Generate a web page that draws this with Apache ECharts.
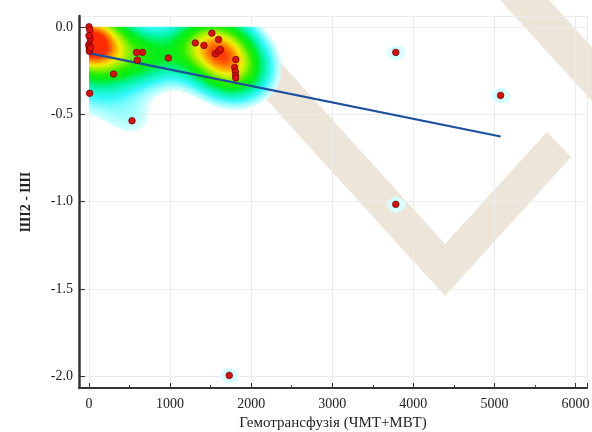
<!DOCTYPE html>
<html><head><meta charset="utf-8">
<script src="https://cdn.jsdelivr.net/npm/echarts@6/dist/echarts.min.js"></script>
<style>html,body{margin:0;padding:0;background:#fff}#c{width:592px;height:432px}</style>
</head><body><div id="c"></div>
<script>
// ---- data (several points at x=0 overlap) ----
const pointsX = [0, 10, 15, 0, 10, 5, 0, 5, 0, 20,
  585, 660, 597, 978, 303, 8, 531,
  1311, 1417, 1515, 1597, 1558, 1599, 1620, 1810, 1796, 1805, 1808, 1810,
  3783, 3783, 5076, 1730];
const pointsY = [0.0, -0.018, -0.068, -0.10, -0.123, -0.14, -0.11, -0.13, -0.05, -0.12,
  -0.146, -0.146, -0.19, -0.178, -0.27, -0.38, -0.537,
  -0.092, -0.106, -0.036, -0.072, -0.154, -0.14, -0.13, -0.187, -0.233, -0.256, -0.278, -0.292,
  -0.146, -1.015, -0.392, -1.993];
const fitX = [0, 5076];
const fitY = [-0.15, -0.627];
const xName = 'Гемотрансфузія (ЧМТ+МВТ)';
const yName = 'ШІ2 - ШІ';

// ---- density surface computed from the points ----
const SX = 300, SY = 0.115, STEPX = 22, STEPY = 0.01, T = 0.94, CAP = 8.6;
const xMaxD = Math.max(...pointsX) + 3 * SX;
const yMinD = Math.min(...pointsY) - 3 * SY;
const cells = [];
for (let x0 = 0; x0 < xMaxD; x0 += STEPX) {
  for (let y0 = -STEPY; y0 > yMinD; y0 -= STEPY) {
    const cx = x0 + STEPX / 2, cy = y0 + STEPY / 2;
    let d = 0;
    for (let i = 0; i < pointsX.length; i++) {
      const dx = (cx - pointsX[i]) / SX, dy = (cy - pointsY[i]) / SY;
      const q = dx * dx + dy * dy;
      if (q < 20) d += Math.exp(-q / 2);
    }
    if (d > T) cells.push([x0, y0, Math.min(d, CAP)]);
  }
}

const chart = echarts.init(document.getElementById('c'), null, {renderer: 'canvas'});
const serif = 'Liberation Serif, Times New Roman, serif';
chart.setOption({
  animation: false,
  backgroundColor: '#fff',
  graphic: [
    {type: 'polygon', z: -100, silent: true,
     shape: {points: [[225, 54], [252, 31], [445, 244], [547, 132], [571, 157], [445, 296]]},
     style: {fill: '#ede6d8'}},
    {type: 'polygon', z: -100, silent: true,
     shape: {points: [[500, 0], [549, 0], [592, 47], [592, 101]]},
     style: {fill: '#ede6d8'}}
  ],
  grid: {left: 79, right: 5, top: 16, bottom: 44, containLabel: false, outerBoundsMode: 'none'},
  visualMap: {
    show: false, type: 'continuous', seriesIndex: 0, dimension: 2,
    min: T, max: CAP,
    inRange: {color: ['#d8ffff', '#30f8f8', '#00f4a0', '#00ee20', '#20ee00', '#90f000', '#f0f000', '#ff9000', '#ff2a00']}
  },
  xAxis: {
    type: 'value', min: -123, max: 6141,
    axisLine: {show: true, onZero: false, lineStyle: {color: '#333', width: 2}},
    axisTick: {show: true, inside: true, length: 5, lineStyle: {color: '#333'}},
    minorTick: {show: true, splitNumber: 2, length: 3, lineStyle: {color: '#444'}},
    axisLabel: {showMinLabel: false, showMaxLabel: false, color: '#222', fontFamily: serif, fontSize: 14, margin: 9,
      formatter: v => String(v)},
    splitLine: {show: true, lineStyle: {color: '#ececec', width: 1}},
    name: xName, nameLocation: 'middle', nameGap: 27,
    nameTextStyle: {color: '#222', fontFamily: serif, fontSize: 15}
  },
  yAxis: {
    type: 'value', min: -2.065, max: 0.062,
    axisLine: {show: true, onZero: false, lineStyle: {color: '#333', width: 2.5}},
    axisTick: {show: true, inside: true, length: 6, lineStyle: {color: '#333'}},
    axisLabel: {showMinLabel: false, showMaxLabel: false, color: '#222', fontFamily: serif, fontSize: 14, margin: 6,
      formatter: v => v.toFixed(1)},
    splitLine: {show: true, lineStyle: {color: '#ececec', width: 1}},
    name: yName, nameLocation: 'middle', nameGap: 46, nameRotate: 90,
    nameTextStyle: {color: '#222', fontFamily: serif, fontSize: 14, fontWeight: 'bold'}
  },
  series: [
    {
      type: 'custom', z: 1, silent: true,
      data: cells,
      renderItem: function (params, api) {
        const x0 = api.value(0), y0 = api.value(1);
        const p1 = api.coord([x0, y0 + STEPY]);
        const p2 = api.coord([x0 + STEPX, y0]);
        return {type: 'rect',
          shape: {x: p1[0], y: p1[1], width: p2[0] - p1[0] + 0.6, height: p2[1] - p1[1] + 0.6},
          style: {fill: api.visual('color')}};
      }
    },
    {
      type: 'line', z: 3, silent: true, showSymbol: false,
      data: fitX.map((x, i) => [x, fitY[i]]),
      lineStyle: {color: '#1d4f9e', width: 2.2}
    },
    {
      type: 'scatter', z: 4,
      data: pointsX.map((x, i) => [x, pointsY[i]]),
      symbolSize: 6.5,
      itemStyle: {color: '#dc1010', borderColor: '#7a0000', borderWidth: 0.8, opacity: 1}
    }
  ]
});
</script>
</body></html>
